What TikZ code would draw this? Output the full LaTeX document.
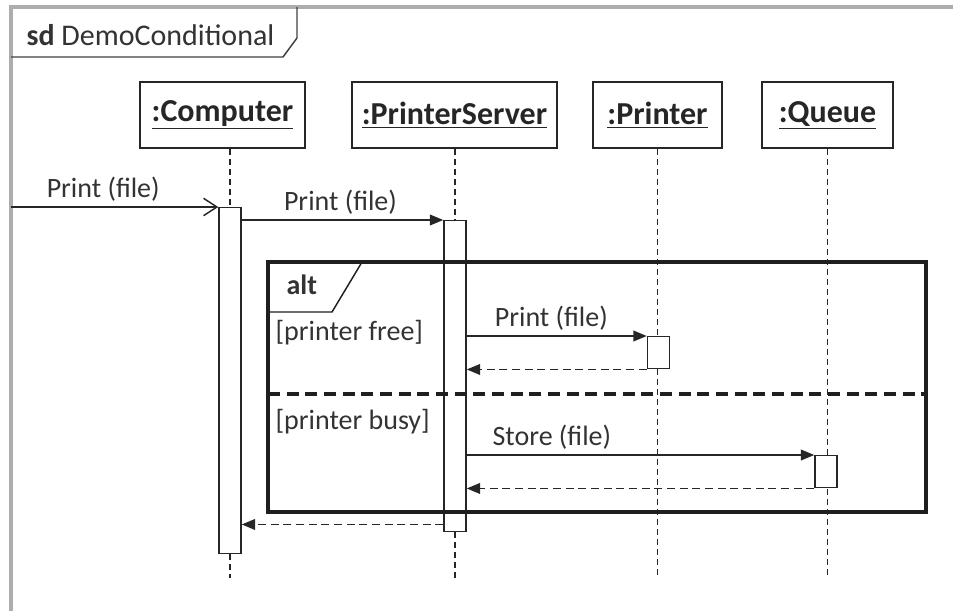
\documentclass[tikz,border=0pt]{standalone}
\usepackage{fontspec}
\setmainfont{Carlito}
\usetikzlibrary{arrows.meta}

\tikzset{
  head/.style={draw=black!85,line width=1.1pt,minimum height=49.5pt,text=black!85,font=\fontsize{24}{28}\selectfont\bfseries},
  act/.style={draw=black!85,fill=white,line width=1.1pt,minimum width=16.5pt,anchor=north,inner sep=0pt},
  lifeline/.style={black!85,line width=0.9pt,dash pattern=on 4.5pt off 3pt},
  call/.style={black!85,line width=1.1pt,-{Triangle[length=10pt,width=8pt]}},
  reply/.style={black!85,line width=1.1pt,dash pattern=on 6pt off 3.5pt,-{Triangle[length=10pt,width=8pt]}},
  lbl/.style={text=black!80,font=\fontsize{21}{24}\selectfont,inner sep=1pt},
}

\begin{document}
\begin{tikzpicture}[x=0.75pt,y=-0.75pt]
  \useasboundingbox (0,0) rectangle (953,611);

  % outer sd frame and its tab
  \draw[black!32,line width=2.6pt] (953,7) -- (11,7) -- (11,611);
  \draw[black!75,line width=1.1pt] (11,57) -- (283,57) -- (297,38) -- (297,7);
  \node[lbl,anchor=west,font=\fontsize{22.5}{26}\selectfont] (title) at (25,35) {\textbf{sd} DemoConditional};

  % lifeline heads
  \node[head,minimum width=123.75pt] (comp) at (222.5,115) {\underline{:Computer}};
  \node[head,minimum width=153.75pt] (srv)  at (454.5,115) {\underline{:PrinterServer}};
  \node[head,minimum width=96.75pt]  (prn)  at (657.5,115) {\underline{:Printer}};
  \node[head,minimum width=98.25pt]  (que)  at (827.5,115) {\underline{:Queue}};

  \coordinate (bottom) at (0,578);
  \foreach \o in {prn,que}
    \draw[lifeline] (\o.south) -- (\o |- bottom);

  % activation bars
  \node[act,minimum height=259.5pt] (compA) at (230,207) {};
  \node[act,minimum height=233.25pt] (srvA) at (455,220) {};
  \node[act,minimum height=24pt] (prnA) at (658.5,336) {};
  \node[act,minimum height=24pt] (queA) at (826,455) {};
  \foreach \o in {compA,srvA}
    \draw[lifeline] (\o |- comp.south) -- (\o.north) (\o.south) -- (\o |- bottom);

  % alt fragment
  \draw[black!88,line width=2.6pt] (268,262) rectangle (926,512);
  \draw[black!88,line width=1.1pt] (268,312) -- (332,312) -- (362,262);
  \draw[black!88,line width=2.6pt,dash pattern=on 9pt off 5pt] (268,394) -- (926,394);
  \node[lbl,anchor=west] (alt) at (285,285) {\textbf{alt}};
  \node[lbl,anchor=west] (free) at (274,333) {[printer free]};
  \node[lbl,anchor=west] (busy) at (274,422) {[printer busy]};

  % messages
  \coordinate (gate) at (11,207);
  \draw[black!85,line width=1.1pt,-{Straight Barb[length=10pt,width=13pt]}] (gate) --
    node[lbl,above=3pt,pos=0.445] (m1) {Print (file)} (compA.north west);
  \draw[call] (compA.east |- srvA.north) --
    node[lbl,above=3pt,pos=0.49] (m2) {Print (file)} (srvA.north west);
  \draw[call] (srvA.east |- prnA.north) --
    node[lbl,above=3pt,pos=0.47] (m3) {Print (file)} (prnA.north west);
  \draw[reply] (prnA.south west) -- (srvA.east |- prnA.south);
  \draw[call] (srvA.east |- queA.north) --
    node[lbl,above=3pt,pos=0.245] (m4) {Store (file)} (queA.north west);
  \draw[reply] (queA.south west) -- (srvA.east |- queA.south);
  \draw[reply] ([yshift=6pt]srvA.south west) -- ([yshift=6pt]compA.east |- srvA.south);
\end{tikzpicture}
\end{document}
